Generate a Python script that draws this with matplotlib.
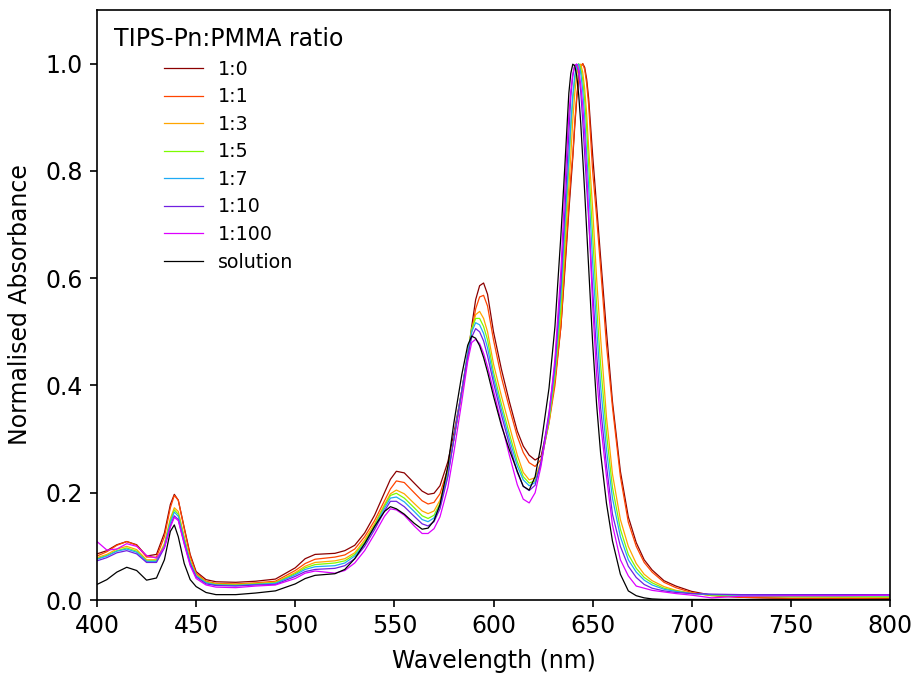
import matplotlib
matplotlib.use("Agg")
import matplotlib.pyplot as plt

wavelength = [400, 405, 410, 415, 420, 425, 430, 434, 437, 439, 441, 444, 447, 450, 455, 460, 470, 480, 490, 500,
              505, 510, 520, 525, 530, 535, 540, 545, 548, 551, 555, 560, 564, 567, 570, 573, 577, 580, 584, 587,
              589, 591, 593, 595, 597, 600, 604, 608, 612, 615, 618, 621, 624, 628, 631, 634, 636, 638, 639, 640,
              641, 642, 643, 644, 645, 646, 647, 648, 650, 652, 654, 657, 660, 664, 668, 672, 676, 680, 686, 692,
              700, 710, 725, 750, 775, 800]

abs_1_0 = [0.086, 0.092, 0.103, 0.109, 0.103, 0.082, 0.085, 0.125, 0.178, 0.197, 0.186, 0.135, 0.085, 0.053, 0.038, 0.034, 0.033, 0.035, 0.039, 0.060,
           0.077, 0.085, 0.087, 0.092, 0.102, 0.125, 0.158, 0.200, 0.225, 0.240, 0.237, 0.218, 0.203, 0.197, 0.199, 0.213, 0.258, 0.310, 0.390, 0.455,
           0.510, 0.560, 0.586, 0.591, 0.570, 0.500, 0.430, 0.370, 0.315, 0.287, 0.270, 0.261, 0.268, 0.335, 0.410, 0.510, 0.615, 0.725, 0.775, 0.825,
           0.884, 0.935, 0.971, 0.993, 1.000, 0.993, 0.971, 0.935, 0.830, 0.735, 0.640, 0.500, 0.370, 0.240, 0.155, 0.107, 0.075, 0.056, 0.036, 0.026,
           0.016, 0.009, 0.005, 0.003, 0.003, 0.003]

abs_1_1 = [0.082, 0.090, 0.102, 0.109, 0.102, 0.080, 0.080, 0.118, 0.172, 0.195, 0.186, 0.133, 0.082, 0.050, 0.035, 0.031, 0.030, 0.032, 0.035, 0.055,
           0.068, 0.076, 0.080, 0.084, 0.095, 0.118, 0.148, 0.185, 0.207, 0.222, 0.219, 0.200, 0.185, 0.179, 0.182, 0.198, 0.245, 0.300, 0.385, 0.450,
           0.500, 0.543, 0.565, 0.568, 0.548, 0.485, 0.415, 0.358, 0.305, 0.275, 0.256, 0.249, 0.262, 0.330, 0.400, 0.510, 0.625, 0.735, 0.790, 0.830,
           0.891, 0.941, 0.976, 0.995, 1.000, 0.989, 0.963, 0.923, 0.800, 0.715, 0.620, 0.475, 0.360, 0.230, 0.145, 0.100, 0.070, 0.052, 0.033, 0.023,
           0.014, 0.008, 0.005, 0.003, 0.003, 0.002]

abs_1_3 = [0.079, 0.085, 0.095, 0.100, 0.094, 0.075, 0.075, 0.105, 0.152, 0.172, 0.165, 0.118, 0.074, 0.047, 0.034, 0.030, 0.029, 0.031, 0.033, 0.051,
           0.063, 0.070, 0.073, 0.077, 0.088, 0.112, 0.142, 0.178, 0.198, 0.205, 0.198, 0.180, 0.166, 0.161, 0.166, 0.186, 0.240, 0.300, 0.390, 0.460,
           0.505, 0.532, 0.538, 0.525, 0.500, 0.440, 0.380, 0.325, 0.270, 0.238, 0.224, 0.228, 0.258, 0.330, 0.415, 0.530, 0.655, 0.770, 0.828, 0.895,
           0.945, 0.979, 0.997, 0.999, 0.984, 0.953, 0.906, 0.843, 0.730, 0.600, 0.490, 0.340, 0.235, 0.150, 0.100, 0.068, 0.048, 0.036, 0.025, 0.018,
           0.013, 0.009, 0.007, 0.006, 0.005, 0.005]

abs_1_5 = [0.077, 0.083, 0.092, 0.097, 0.091, 0.073, 0.073, 0.102, 0.148, 0.168, 0.160, 0.114, 0.072, 0.046, 0.033, 0.029, 0.028, 0.030, 0.032, 0.049,
           0.060, 0.066, 0.069, 0.073, 0.085, 0.108, 0.139, 0.175, 0.195, 0.199, 0.190, 0.172, 0.157, 0.152, 0.158, 0.180, 0.237, 0.300, 0.390, 0.460,
           0.505, 0.525, 0.525, 0.510, 0.485, 0.425, 0.365, 0.310, 0.258, 0.230, 0.218, 0.222, 0.255, 0.335, 0.420, 0.545, 0.675, 0.811, 0.879, 0.932,
           0.970, 0.992, 1.000, 0.992, 0.970, 0.932, 0.879, 0.811, 0.680, 0.550, 0.440, 0.310, 0.210, 0.132, 0.085, 0.059, 0.042, 0.032, 0.022, 0.017,
           0.012, 0.009, 0.007, 0.006, 0.006, 0.006]

abs_1_7 = [0.076, 0.082, 0.091, 0.095, 0.089, 0.072, 0.072, 0.100, 0.144, 0.164, 0.156, 0.111, 0.070, 0.045, 0.032, 0.028, 0.027, 0.029, 0.031, 0.047,
           0.057, 0.062, 0.064, 0.069, 0.082, 0.105, 0.136, 0.171, 0.190, 0.192, 0.183, 0.165, 0.150, 0.146, 0.153, 0.176, 0.233, 0.300, 0.390, 0.460,
           0.500, 0.517, 0.513, 0.497, 0.470, 0.415, 0.355, 0.300, 0.250, 0.224, 0.213, 0.219, 0.255, 0.340, 0.430, 0.570, 0.700, 0.825, 0.887, 0.941,
           0.978, 0.997, 0.999, 0.983, 0.950, 0.899, 0.831, 0.770, 0.630, 0.510, 0.400, 0.280, 0.190, 0.118, 0.075, 0.052, 0.037, 0.028, 0.020, 0.016,
           0.012, 0.010, 0.009, 0.008, 0.008, 0.008]

abs_1_10 = [0.073, 0.079, 0.088, 0.092, 0.086, 0.070, 0.070, 0.097, 0.138, 0.157, 0.150, 0.106, 0.067, 0.043, 0.030, 0.027, 0.026, 0.028, 0.029, 0.044,
            0.053, 0.057, 0.059, 0.064, 0.077, 0.100, 0.131, 0.166, 0.184, 0.184, 0.174, 0.156, 0.142, 0.138, 0.146, 0.170, 0.230, 0.300, 0.390, 0.455,
            0.490, 0.506, 0.500, 0.483, 0.455, 0.405, 0.345, 0.290, 0.238, 0.212, 0.204, 0.214, 0.258, 0.350, 0.440, 0.590, 0.725, 0.870, 0.938, 0.977,
            0.997, 0.999, 0.982, 0.947, 0.894, 0.830, 0.770, 0.710, 0.580, 0.460, 0.360, 0.250, 0.160, 0.100, 0.063, 0.042, 0.029, 0.022, 0.017, 0.014,
            0.012, 0.011, 0.010, 0.010, 0.010, 0.010]

abs_1_100 = [0.109, 0.093, 0.095, 0.105, 0.100, 0.083, 0.078, 0.098, 0.136, 0.154, 0.148, 0.104, 0.064, 0.040, 0.028, 0.024, 0.023, 0.026, 0.028, 0.040,
             0.050, 0.054, 0.050, 0.055, 0.069, 0.092, 0.123, 0.156, 0.170, 0.168, 0.158, 0.138, 0.124, 0.124, 0.133, 0.155, 0.210, 0.275, 0.370, 0.445,
             0.480, 0.486, 0.478, 0.460, 0.435, 0.390, 0.330, 0.270, 0.215, 0.188, 0.181, 0.200, 0.250, 0.345, 0.450, 0.615, 0.768, 0.904, 0.950, 0.981,
             0.997, 0.999, 0.987, 0.961, 0.922, 0.869, 0.800, 0.720, 0.550, 0.420, 0.330, 0.230, 0.140, 0.075, 0.045, 0.026, 0.022, 0.018, 0.015, 0.012,
             0.009, 0.004, 0.007, 0.008, 0.008, 0.009]

abs_solution = [0.029, 0.038, 0.052, 0.061, 0.055, 0.037, 0.041, 0.075, 0.128, 0.140, 0.118, 0.068, 0.038, 0.025, 0.014, 0.010, 0.010, 0.013, 0.017, 0.030,
                0.040, 0.046, 0.049, 0.057, 0.077, 0.105, 0.137, 0.165, 0.174, 0.170, 0.160, 0.143, 0.132, 0.134, 0.148, 0.178, 0.250, 0.330, 0.420, 0.475,
                0.492, 0.488, 0.474, 0.452, 0.425, 0.380, 0.325, 0.280, 0.240, 0.212, 0.205, 0.230, 0.290, 0.395, 0.510, 0.680, 0.810, 0.945, 0.982, 0.999,
                0.996, 0.977, 0.941, 0.889, 0.825, 0.760, 0.690, 0.620, 0.480, 0.365, 0.275, 0.180, 0.110, 0.048, 0.017, 0.008, 0.004, 0.002, 0.001, 0.001,
                0.001, 0.001, 0.001, 0.001, 0.001, 0.001]

labels = ["1:0", "1:1", "1:3", "1:5", "1:7", "1:10", "1:100", "solution"]
series = [abs_1_0, abs_1_1, abs_1_3, abs_1_5, abs_1_7, abs_1_10, abs_1_100, abs_solution]
colors = ["#8b0000", "#ff4500", "#ffa500", "#7cfc00", "#1eaaf5", "#7020e0", "#dd00ff", "#000000"]

for s in series:
    assert len(s) == len(wavelength), (len(s), len(wavelength))

fig = plt.figure(figsize=(9.13, 6.73), dpi=100)
ax = fig.add_axes([97 / 913, 73 / 673, (890 - 97) / 913, (600 - 10) / 673])

for y, lab, c in zip(series, labels, colors):
    ax.plot(wavelength, y, color=c, lw=0.9, label=lab)

ax.set_xlim(400, 800)
ax.set_ylim(0, 1.1)
ax.set_xticks(range(400, 801, 50))
ax.set_yticks([0.0, 0.2, 0.4, 0.6, 0.8, 1.0])
ax.set_yticklabels(["0.0", "0.2", "0.4", "0.6", "0.8", "1.0"])
ax.tick_params(labelsize=17, length=5, width=1.2, pad=5, direction="out")
for sp in ax.spines.values():
    sp.set_linewidth(1.2)
ax.set_xlabel("Wavelength (nm)", fontsize=17, labelpad=8)
ax.set_ylabel("Normalised Absorbance", fontsize=17, labelpad=10)

leg = ax.legend(title="TIPS-Pn:PMMA ratio", title_fontsize=17, fontsize=13.7,
                frameon=False, loc="upper left", bbox_to_anchor=(0.0, 1.0),
                handlelength=2.0, handletextpad=0.8, labelspacing=0.45)

fig.savefig("out.png", dpi=100)
